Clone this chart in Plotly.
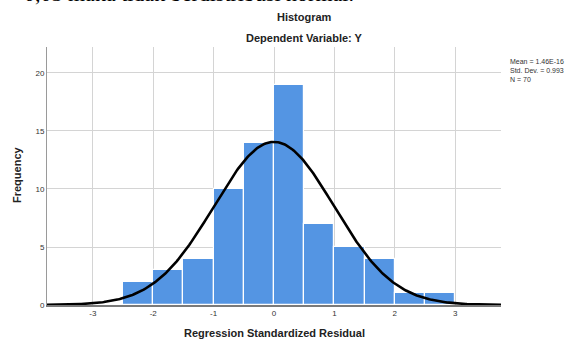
import numpy as np
import plotly.graph_objects as go

# Histogram data (bin width 0.5)
bin_starts = [-2.5, -2.0, -1.5, -1.0, -0.5, 0.0, 0.5, 1.0, 1.5, 2.0, 2.5]
counts = [2, 3, 4, 10, 14, 19, 7, 5, 4, 1, 1]
bin_width = 0.5

# Fit statistics shown in the legend
mean_val = 1.46e-16
std_val = 0.993
n_val = 70

x_ticks = [-3, -2, -1, 0, 1, 2, 3]
y_ticks = [0, 5, 10, 15, 20]

centers = [b + bin_width / 2 for b in bin_starts]

xs = np.linspace(-3.76, 3.76, 400)
ys = n_val * bin_width / (std_val * np.sqrt(2 * np.pi)) * np.exp(-0.5 * ((xs - mean_val) / std_val) ** 2)

W, H = 572, 340
L, R, T, B = 47, 71, 47, 35

fig = go.Figure()
fig.add_trace(go.Bar(x=centers, y=counts, width=bin_width,
                     marker=dict(color="#5495E3", line=dict(color="white", width=1.2)),
                     showlegend=False))
fig.add_trace(go.Scatter(x=xs, y=ys, mode="lines", line=dict(color="black", width=2.6),
                         showlegend=False))

font_fam = "Liberation Sans, Arial, sans-serif"
fig.update_layout(
    width=W, height=H,
    margin=dict(l=L, r=R, t=T, b=B, autoexpand=False),
    paper_bgcolor="white", plot_bgcolor="white",
    bargap=0,
    xaxis=dict(range=[-3.76, 3.76], tickvals=x_ticks, ticktext=[str(v) for v in x_ticks],
               showgrid=True, gridcolor="#d4d4d4", gridwidth=1, automargin=False,
               showline=True, linecolor="#7a7a7a", linewidth=1.5,
               zeroline=False, ticks="", tickfont=dict(family=font_fam, size=8, color="#333")),
    yaxis=dict(range=[0, 22.24], tickvals=y_ticks,
               showgrid=True, gridcolor="#d4d4d4", gridwidth=1, automargin=False,
               showline=True, linecolor="#9a9a9a", linewidth=1,
               zeroline=False, ticks="", tickfont=dict(family=font_fam, size=8, color="#333")),
    font=dict(family=font_fam),
)


def px2paper(px, py):
    return (px - L) / (W - L - R), 1 - (py - T) / (H - T - B)


xp, yp = px2paper(22, 8)
fig.add_annotation(text="0,05 maka tidak berdistribusi normal.", x=xp, y=yp, xref="paper", yref="paper",
                   xanchor="left", yanchor="bottom", showarrow=False,
                   font=dict(family="Liberation Serif, Times New Roman, serif", size=22, color="black"))
for txt, px, py in [("<b>Histogram</b>", 304, 17), ("<b>Dependent Variable: Y</b>", 304, 38),
                    ("<b>Regression Standardized Residual</b>", 274, 333)]:
    xp, yp = px2paper(px, py)
    fig.add_annotation(text=txt, x=xp, y=yp, xref="paper", yref="paper", xanchor="center",
                       yanchor="middle", showarrow=False, font=dict(family=font_fam, size=11, color="#222"))
xp, yp = px2paper(17, 175)
fig.add_annotation(text="<b>Frequency</b>", x=xp, y=yp, xref="paper", yref="paper", xanchor="center",
                   yanchor="middle", textangle=-90, showarrow=False,
                   font=dict(family=font_fam, size=11, color="#222"))
xp, yp = px2paper(508, 71)
fig.add_annotation(text=f"Mean = 1.46E-16<br>Std. Dev. = {std_val}<br>N = {n_val}", x=xp, y=yp,
                   xref="paper", yref="paper", xanchor="left", yanchor="middle", align="left",
                   showarrow=False, font=dict(family=font_fam, size=7, color="#333"))

fig.write_html("out.html", config={"displayModeBar": False},
               post_script="document.body.style.margin='0';document.body.style.overflow='hidden';")
